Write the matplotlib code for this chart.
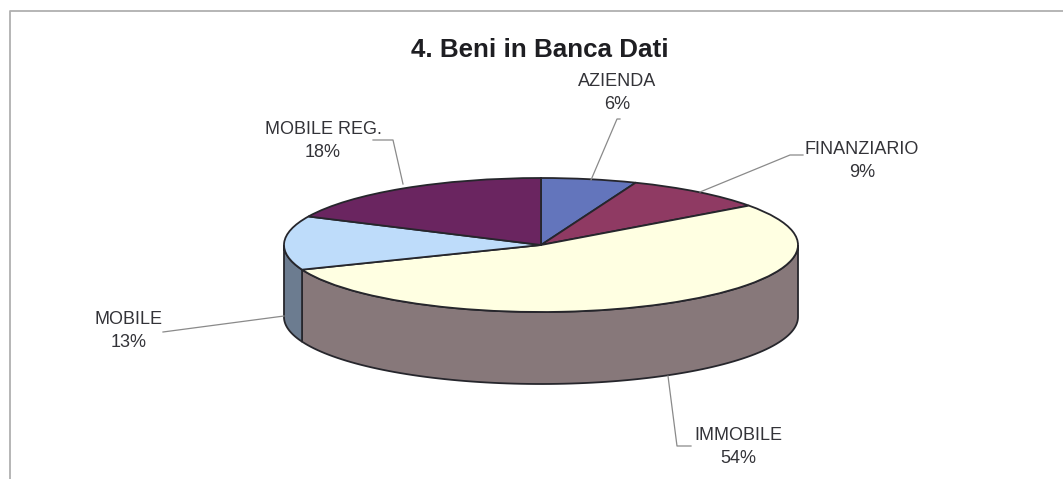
# -*- coding: utf-8 -*-
"""Torta 3D: beni in banca dati."""
import matplotlib
matplotlib.use("Agg")
import matplotlib.pyplot as plt
import numpy as np

labels = ["AZIENDA", "FINANZIARIO", "IMMOBILE", "MOBILE", "MOBILE REG."]
values = [6, 9, 54, 13, 18]
top_colors = ["#6375BC", "#8F3A63", "#FFFFE2", "#BEDCFA", "#6A2560"]
side_colors = ["#4A5788", "#682A48", "#87787A", "#6C7C90", "#4C1B45"]

W, H = 1063, 479
CX, CY, RX, RY, DEPTH = 541, 245, 257, 67, 72
EDGE = "#26262C"
TEXT = "#333338"

plt.rcParams["font.family"] = ["Liberation Sans", "DejaVu Sans"]

fig = plt.figure(figsize=(W / 100, H / 100), dpi=100, facecolor="white")

# assi della torta: unita = raggio, schiacciati a ellisse
ax = fig.add_axes([0, 0, 1, 1])
ax.pie(values, colors=top_colors, startangle=90, counterclock=False, radius=1,
       wedgeprops={"edgecolor": EDGE, "linewidth": 1.3, "zorder": 3})
ax.set_aspect("auto")
ax.set_xlim(-CX / RX, (W - CX) / RX)
ax.set_ylim((CY - H) / RY, CY / RY)
ax.axis("off")

# parete laterale, solo la parte davanti
d = DEPTH / RY
edges = 90 - np.cumsum([0] + values) / sum(values) * 360
for i in range(len(values)):
    a1, a0 = edges[i], edges[i + 1]
    lo, hi = max(a0, -180), min(a1, 0)
    if lo >= hi:
        continue
    t = np.radians(np.linspace(lo, hi, 100))
    xs = np.concatenate([np.cos(t), np.cos(t[::-1])])
    ys = np.concatenate([np.sin(t), np.sin(t[::-1]) - d])
    ax.fill(xs, ys, facecolor=side_colors[i], edgecolor=EDGE, linewidth=1.3, zorder=2)

# assi in pixel per cornice, etichette e linee guida
ov = fig.add_axes([0, 0, 1, 1], facecolor="none")
ov.set_xlim(0, W)
ov.set_ylim(H, 0)
ov.axis("off")

ov.plot([10, 10, W], [H, 11, 11], color="#B0B0B0", linewidth=1.3)

ov.text(540, 50, "4. Beni in Banca Dati", ha="center", va="center",
        fontsize=18.7, fontweight="bold", color="#1E1E22")

label_pos = [(617, 93), (862, 161), (738, 447), (129, 331), (323, 141)]
leaders = [
    [(591, 180), (617, 119), (620, 119)],
    [(700, 192), (790, 155), (803, 155)],
    [(668, 376), (677, 446), (691, 446)],
    [(284, 316), (163, 332)],
    [(403, 184), (393, 140), (373, 140)],
]
for name, v, (x, y), pts in zip(labels, values, label_pos, leaders):
    ov.text(x, y, f"{name}\n{v}%", ha="center", va="center", fontsize=13,
            color=TEXT, linespacing=1.5)
    ov.plot(*zip(*pts), color="#8A8A8A", linewidth=0.9)

fig.savefig("out.png", dpi=100)
